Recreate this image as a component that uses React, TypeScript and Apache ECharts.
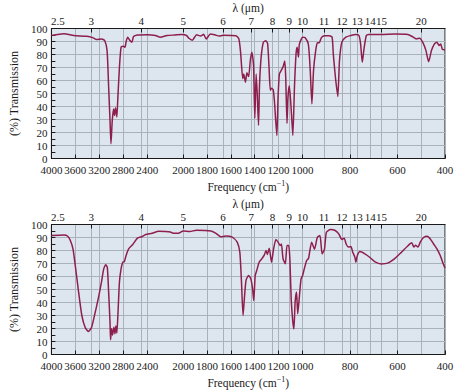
import React, { useEffect, useRef } from "react";
import * as echarts from "echarts";

// Tick labels
const freqTicks = [4000, 3600, 3200, 2800, 2400, 2000, 1800, 1600, 1400, 1200, 1000, 800, 600, 400];
const lambdaTicks = [2.5, 3, 4, 5, 6, 7, 8, 9, 10, 11, 12, 13, 14, 15, 20];

// The printed frequency axis is piecewise linear: these wavenumbers sit at these relative positions
const scaleBreakWn = [4000, 2400, 2000, 1000, 400];
const scaleBreakPos = [0, 97.7, 134.3, 255.7, 401];

// [wavenumber (cm-1), % transmission]
const topSpectrum: [number, number][] = [
  [4000, 94.6], [3792, 95.9], [3628, 94.6], [3410, 94], [3301, 92.8], [3247, 91.5], [3165, 92], [3111, 90.8],
  [3071, 83], [3045, 55], [3022, 29], [3006, 11.3], [2985, 29], [2963, 38], [2947, 33], [2931, 39], [2908, 32],
  [2891, 47], [2865, 70], [2837, 85.6], [2800, 86.4], [2772, 85.6], [2755, 89.5], [2728, 93.3], [2690, 90.8],
  [2657, 89.5], [2629, 93.8], [2564, 95], [2400, 95.2], [2309, 94.6], [2255, 93.3], [2181, 94.6], [2091, 95],
  [2017, 95.4], [1972, 94.6], [1953, 92.5], [1924, 91], [1887, 95.2], [1854, 94.2], [1829, 95.5], [1807, 92],
  [1772, 95.8], [1731, 95], [1698, 94.2], [1665, 94.8], [1558, 94.4], [1533, 92], [1519, 82], [1500, 61.3],
  [1492, 65], [1478, 58.7], [1465, 66], [1451, 63], [1437, 75.4], [1424, 81.8], [1410, 72], [1399, 31],
  [1388, 65], [1379, 50], [1368, 25.6], [1360, 56], [1346, 78], [1327, 89.5], [1308, 90.5], [1292, 88.5],
  [1280, 70.5], [1269, 52.5], [1259, 54], [1245, 53], [1234, 43.5], [1226, 32], [1214, 17.7], [1204, 47],
  [1193, 65], [1176, 68], [1162, 70.5], [1148, 75], [1140, 63], [1129, 27], [1121, 47], [1110, 56], [1099, 45],
  [1090, 32], [1080, 17.7], [1066, 56], [1053, 80.8], [1044, 85.6], [1033, 78], [1025, 88], [999, 93.3],
  [989, 93], [975, 88], [967, 68], [960, 42], [953, 68], [944, 83], [937, 89], [929, 89], [920, 93], [907, 94.4],
  [887, 94.4], [875, 93.3], [870, 80.5], [861, 62.5], [851, 47.7], [844, 75], [834, 89.5], [817, 93.3],
  [796, 94.6], [776, 95.4], [762, 94.6], [755, 88], [748, 74], [741, 84], [731, 94.6], [721, 95.4], [668, 95.4],
  [611, 95.7], [557, 95.4], [535, 93.5], [521, 92], [507, 92.5], [494, 89.5], [480, 83], [469, 74.5], [457, 83],
  [445, 88], [434, 89.5], [425, 87], [418, 88], [411, 84], [400, 83.5],
];

const bottomSpectrum: [number, number][] = [
  [4000, 91.5], [3792, 92], [3727, 91], [3684, 87.7], [3640, 81.3], [3602, 68.5], [3546, 48], [3492, 30],
  [3438, 21], [3383, 17.7], [3329, 21], [3275, 31.3], [3219, 42.8], [3165, 55.6], [3127, 65.9], [3094, 69],
  [3067, 67], [3045, 48], [3022, 24.8], [3013, 11.3], [2996, 20], [2980, 15], [2957, 21], [2940, 16], [2924, 22],
  [2908, 16.5], [2886, 35], [2865, 55.6], [2837, 66], [2809, 71], [2783, 71.5], [2755, 76], [2711, 81.3],
  [2646, 84.4], [2564, 89.5], [2482, 90.8], [2428, 92.3], [2345, 93.3], [2273, 94.9], [2200, 94.6], [2145, 94.2],
  [2109, 93.3], [2054, 93.3], [2000, 95], [1945, 94.6], [1890, 95.6], [1766, 95], [1725, 93.2], [1684, 90.5],
  [1643, 91.2], [1588, 90.3], [1547, 86.4], [1525, 78.7], [1511, 55.6], [1498, 30], [1487, 42.8], [1473, 57],
  [1451, 60.8], [1432, 58], [1418, 50.5], [1408, 41.5], [1396, 60.8], [1383, 64.6], [1363, 71], [1341, 73.6],
  [1319, 76.7], [1305, 80], [1294, 77], [1278, 81.8], [1259, 71], [1242, 81], [1222, 88.5], [1204, 86.4],
  [1185, 83.8], [1176, 85], [1162, 73.6], [1143, 69.8], [1129, 83.8], [1115, 83.8], [1105, 73.6], [1094, 42.8],
  [1080, 24.8], [1071, 19.7], [1061, 40.2], [1049, 48], [1039, 31.3], [1022, 48], [1011, 58.2], [999, 60.8],
  [992, 65.9], [982, 72.3], [974, 74], [961, 86.4], [949, 81], [937, 90.2], [926, 91.5], [917, 77.4], [907, 81],
  [899, 94], [882, 96.2], [862, 95.4], [847, 92.8], [834, 88.5], [824, 89.5], [816, 85], [806, 82.6], [796, 83],
  [788, 78.7], [779, 74.8], [775, 71], [769, 76], [758, 79.2], [737, 77.4], [717, 74.8], [696, 71.5],
  [668, 69.7], [641, 70.3], [613, 73.6], [586, 78.2], [558, 83.3], [540, 85.9], [531, 82.6], [524, 84],
  [514, 82.6], [503, 86.9], [489, 90.2], [475, 91], [461, 88.7], [448, 85], [434, 81.3], [420, 76.2],
  [410, 71], [400, 66.5],
];

function toPos(wn: number): number {
  for (let i = 0; i < scaleBreakWn.length - 1; i++) {
    const a = scaleBreakWn[i];
    const b = scaleBreakWn[i + 1];
    if (wn <= a && wn >= b) {
      return scaleBreakPos[i] + ((a - wn) / (a - b)) * (scaleBreakPos[i + 1] - scaleBreakPos[i]);
    }
  }
  return wn > scaleBreakWn[0] ? 0 : scaleBreakPos[scaleBreakPos.length - 1];
}

const FONT = "Liberation Serif";
const INK = "#1a1a1a";
const LINE = "#8e1f4d";
const GRIDLINE = "#a9b2ba";
const BG = "#dde6ee";

const freqPos = freqTicks.map(toPos);
const lambdaPos = lambdaTicks.map((l) => toPos(10000 / l));

function labelFor(v: number, pos: number[], labels: number[]): string {
  for (let i = 0; i < pos.length; i++) if (Math.abs(pos[i] - v) < 1e-6) return String(labels[i]);
  return "";
}

function panelAxes(gridIndex: number) {
  const common = {
    type: "value" as const,
    gridIndex,
    min: 0,
    max: scaleBreakPos[scaleBreakPos.length - 1],
    axisLine: { show: true, lineStyle: { color: INK, width: 1 } },
    splitLine: { show: true, lineStyle: { color: GRIDLINE, width: 1 } },
  };
  const bottom = {
    ...common,
    position: "bottom" as const,
    axisTick: { show: true, inside: true, length: 4, customValues: freqPos, lineStyle: { color: INK } },
    axisLabel: {
      customValues: freqPos,
      formatter: (v: number) => labelFor(v, freqPos, freqTicks),
      fontFamily: FONT,
      fontSize: 11,
      color: INK,
      margin: 6,
    },
    name: "Frequency (cm{sup|−1})",
    nameLocation: "middle" as const,
    nameGap: 21,
    nameTextStyle: {
      fontFamily: FONT,
      fontSize: 11.5,
      color: INK,
      rich: { sup: { fontFamily: FONT, fontSize: 8, color: INK, padding: [0, 0, 6, 0] } },
    },
  };
  const top = {
    ...common,
    position: "top" as const,
    axisTick: { show: true, inside: true, length: 4, customValues: lambdaPos, lineStyle: { color: INK } },
    axisLabel: {
      customValues: lambdaPos,
      formatter: (v: number) => {
        const s = labelFor(v, lambdaPos, lambdaTicks);
        return v === 0 ? "{first|" + s + "}" : s;
      },
      fontFamily: FONT,
      fontSize: 11,
      color: INK,
      margin: 2,
      rich: { first: { fontFamily: FONT, fontSize: 11, color: INK, padding: [0, 0, 0, 13] } },
    },
    name: "λ (μm)",
    nameLocation: "middle" as const,
    nameGap: 15,
    nameTextStyle: { fontFamily: FONT, fontSize: 11.5, color: INK },
  };
  return [bottom, top];
}

function panelY(gridIndex: number) {
  return {
    type: "value" as const,
    gridIndex,
    min: 0,
    max: 100,
    interval: 10,
    axisLine: { show: true, lineStyle: { color: INK, width: 1 } },
    axisTick: { show: true, inside: true, length: 4, lineStyle: { color: INK } },
    minorTick: { show: true, splitNumber: 2, length: 4, lineStyle: { color: INK } },
    splitLine: { show: true, lineStyle: { color: GRIDLINE, width: 1 } },
    axisLabel: { fontFamily: FONT, fontSize: 11, color: INK, margin: 4 },
    name: "(%) Transmission",
    nameLocation: "middle" as const,
    nameRotate: 90,
    nameGap: 25,
    nameTextStyle: { fontFamily: FONT, fontSize: 12, color: INK },
  };
}

export default function App() {
  const ref = useRef<HTMLDivElement>(null);
  useEffect(() => {
    if (!ref.current) return;
    const chart = echarts.init(ref.current, null, { renderer: "svg" });
    const grid = (top: number) => ({
      left: 44,
      top,
      width: 401,
      height: 130,
      show: true,
      backgroundColor: BG,
      borderColor: INK,
      borderWidth: 1,
    });
    const series = (spec: [number, number][], idx: number) => ({
      type: "line" as const,
      xAxisIndex: idx * 2,
      yAxisIndex: idx,
      data: spec.map(([wn, t]) => [toPos(wn), t]),
      showSymbol: false,
      smooth: 0.2,
      lineStyle: { color: LINE, width: 1.5 },
      itemStyle: { color: LINE },
    });
    chart.setOption({
      animation: false,
      backgroundColor: "#ffffff",
      grid: [grid(28.5), grid(224.5)],
      xAxis: [...panelAxes(0), ...panelAxes(1)],
      yAxis: [panelY(0), panelY(1)],
      series: [series(topSpectrum, 0), series(bottomSpectrum, 1)],
    });
    return () => chart.dispose();
  }, []);
  return (
    <div
      ref={ref}
      style={{ position: "absolute", left: 0, top: 0, width: 474, height: 392, background: "#fff" }}
    />
  );
}
